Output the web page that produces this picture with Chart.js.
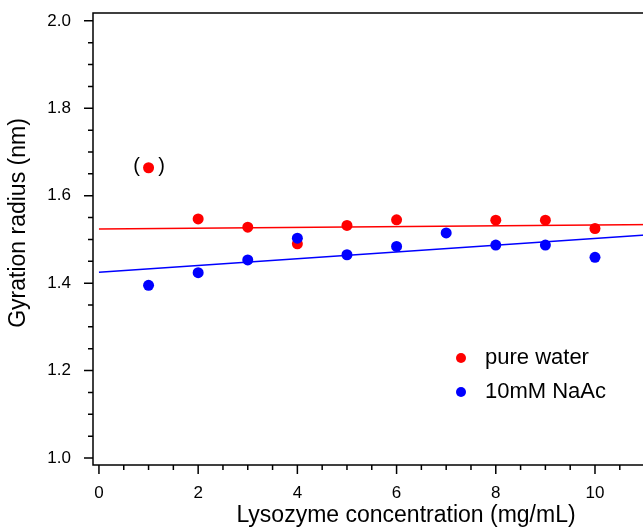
<!DOCTYPE html>
<html>
<head>
<meta charset="utf-8">
<script src="https://cdn.jsdelivr.net/npm/chart.js@4.4.0/dist/chart.umd.min.js"></script>
<style>
  html, body { margin: 0; padding: 0; background: #fff; overflow: hidden; }
  #wrap { width: 730px; height: 529px; }
</style>
</head>
<body>
<div id="wrap"><canvas id="rgChart"></canvas></div>
<script>
// Valores
const concWater = [1, 2, 3, 4, 5, 6, 8, 9, 10];
const radiusWater = [1.664, 1.547, 1.528, 1.490, 1.532, 1.545, 1.544, 1.544, 1.525];
const concNaAc = [1, 2, 3, 4, 5, 6, 7, 8, 9, 10];
const radiusNaAc = [1.395, 1.424, 1.453, 1.503, 1.465, 1.484, 1.515, 1.487, 1.487, 1.459];

// Retas de ajuste (extremos)
const fitX = [0, 12.5];
const fitWater = [1.524, 1.5354];
const fitNaAc = [1.425, 1.5216];

// Rótulos dos eixos
const xTicks = [0, 2, 4, 6, 8, 10, 12];
const yTicks = [1.0, 1.2, 1.4, 1.6, 1.8, 2.0];
const legendLabels = ["pure water", "10mM NaAc"];
const xTitle = "Lysozyme concentration (mg/mL)";
const yTitle = "Gyration radius (nm)";

const FONT = "'Liberation Sans', Arial, sans-serif";
const RED = "#ff0000";
const BLUE = "#0000ff";

const toPoints = (xs, ys) => xs.map((v, i) => ({ x: v, y: ys[i] }));

// Moldura, marcas de escala, título do eixo y, legenda e parênteses
const extras = {
  id: "extras",
  afterDraw(chart) {
    const { ctx, chartArea: a, scales: { x, y } } = chart;
    ctx.save();
    ctx.strokeStyle = "#000";
    ctx.lineWidth = 1.5;
    ctx.strokeRect(a.left, a.top, a.right - a.left, a.bottom - a.top);

    ctx.beginPath();
    for (let v = 0; v <= 12.5; v += 0.5) {
      const px = x.getPixelForValue(v);
      const len = v % 2 === 0 ? 9 : 5;
      ctx.moveTo(px, a.bottom);
      ctx.lineTo(px, a.bottom + len);
    }
    for (let i = 0; i <= 20; i++) {
      const v = 1.0 + i * 0.05;
      const py = y.getPixelForValue(v);
      const len = i % 4 === 0 ? 9 : 5;
      ctx.moveTo(a.left, py);
      ctx.lineTo(a.left - len, py);
    }
    ctx.stroke();

    ctx.fillStyle = "#000";
    ctx.textAlign = "center";
    ctx.textBaseline = "middle";

    // título do eixo y (um pouco acima do centro, como no original)
    ctx.save();
    ctx.translate(19, 223);
    ctx.rotate(-Math.PI / 2);
    ctx.font = "23px " + FONT;
    ctx.fillText(yTitle, 0, 0);
    ctx.restore();

    // parênteses em volta do ponto de 1 mg/mL
    const px = x.getPixelForValue(concWater[0]);
    const py = y.getPixelForValue(radiusWater[0]);
    ctx.font = "20px " + FONT;
    ctx.fillText("(", px - 12, py - 1);
    ctx.fillText(")", px + 13, py - 1);

    // legenda
    const colors = [RED, BLUE];
    ctx.font = "22px " + FONT;
    ctx.textAlign = "left";
    legendLabels.forEach((label, i) => {
      const ly = a.top + 345 + i * 34;
      ctx.fillStyle = colors[i];
      ctx.beginPath();
      ctx.arc(a.left + 368, ly, 5, 0, Math.PI * 2);
      ctx.fill();
      ctx.fillStyle = "#000";
      ctx.fillText(label, a.left + 392, ly);
    });
    ctx.restore();
  },
};

new Chart(document.getElementById("rgChart"), {
  type: "scatter",
  data: {
    datasets: [
      {
        label: legendLabels[1],
        data: toPoints(concNaAc, radiusNaAc),
        backgroundColor: BLUE,
        borderColor: BLUE,
        pointRadius: 5.5,
        borderWidth: 0,
        order: 0,
      },
      {
        label: legendLabels[0],
        data: toPoints(concWater, radiusWater),
        backgroundColor: RED,
        borderColor: RED,
        pointRadius: 5.5,
        borderWidth: 0,
        order: 1,
      },
      {
        type: "line",
        data: toPoints(fitX, fitWater),
        borderColor: RED,
        borderWidth: 1.5,
        pointRadius: 0,
        order: 2,
      },
      {
        type: "line",
        data: toPoints(fitX, fitNaAc),
        borderColor: BLUE,
        borderWidth: 1.5,
        pointRadius: 0,
        order: 2,
      },
    ],
  },
  options: {
    responsive: true,
    maintainAspectRatio: false,
    animation: false,
    layout: { padding: { top: 13, right: 11, left: 0, bottom: 0 } },
    plugins: {
      legend: { display: false },
      tooltip: { enabled: false },
    },
    scales: {
      x: {
        type: "linear",
        min: -0.12,
        max: 12.5,
        afterBuildTicks: (s) => { s.ticks = xTicks.map((v) => ({ value: v })); },
        afterFit: (s) => {
          s.height = 64;
          s.paddingLeft = 0;
          s.paddingRight = 0;
        },
        grid: { display: false, drawTicks: false },
        border: { display: false },
        ticks: {
          color: "#000",
          font: { family: FONT, size: 17 },
          padding: 18,
          maxRotation: 0,
          callback: (v) => String(v),
        },
        title: {
          display: true,
          text: xTitle,
          color: "#000",
          font: { family: FONT, size: 23 },
          padding: { top: 0, bottom: 0 },
        },
      },
      y: {
        min: 0.984,
        max: 2.018,
        afterBuildTicks: (s) => { s.ticks = yTicks.map((v) => ({ value: v })); },
        afterFit: (s) => {
          s.width = 93;
          s.paddingTop = 0;
          s.paddingBottom = 0;
        },
        grid: { display: false, drawTicks: false },
        border: { display: false },
        ticks: {
          color: "#000",
          font: { family: FONT, size: 17 },
          padding: 22,
          callback: (v) => v.toFixed(1),
        },
        title: { display: false },
      },
    },
  },
  plugins: [extras],
});
</script>
</body>
</html>
